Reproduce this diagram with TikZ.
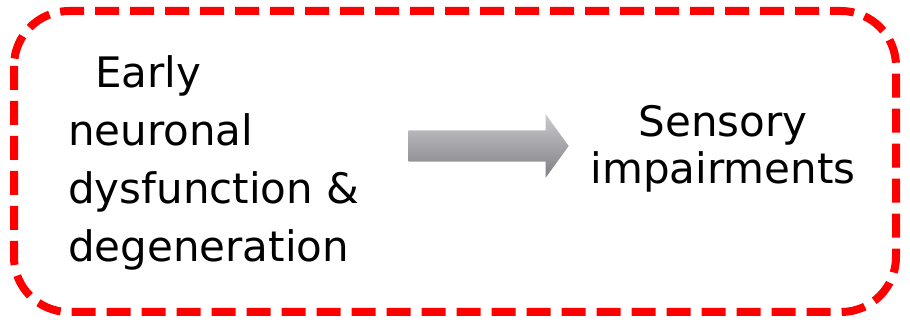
\documentclass[tikz,border=0pt]{standalone}
\usepackage{fontspec}
\setmainfont{DejaVu Sans}
\usepackage{tikz}
\usetikzlibrary{arrows.meta,positioning,shapes.arrows}

\definecolor{frame}{RGB}{255,0,0}
\definecolor{greylight}{RGB}{202,202,206}
\definecolor{greydark}{RGB}{128,128,132}

\begin{document}
\begin{tikzpicture}[x=1pt, y=1pt, every node/.style={font=\fontsize{42pt}{58pt}\selectfont, inner sep=0pt}]
  \useasboundingbox (0,0) rectangle (910,320);

  % dashed frame
  \draw[frame, line width=8pt, dash pattern=on 24pt off 11pt, rounded corners=55pt]
    (14,309) rectangle (896,8);

  \node[anchor=base west, align=left] (C) at (68,58)
    {\hspace*{27pt}Early\\neuronal\\dysfunction \&\\degeneration};
  \node[anchor=base, align=center, font=\fontsize{42pt}{47pt}\selectfont] (E) at (723,136)
    {Sensory\\impairments};

  \node[single arrow, minimum height=160pt, text height=31pt, text depth=0pt,
        single arrow head extend=16pt, single arrow tip angle=108,
        top color=greylight, bottom color=greydark, draw=none] (arr) at (483,174) {};
\end{tikzpicture}
\end{document}
